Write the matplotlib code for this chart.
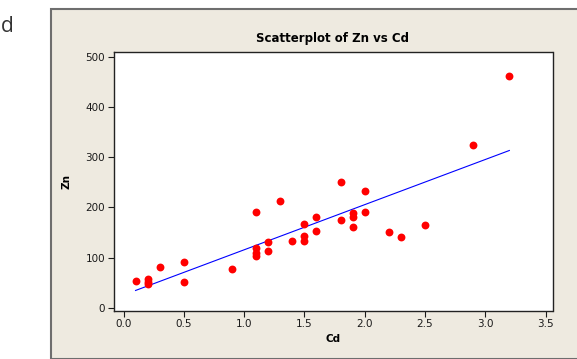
import numpy as np
import matplotlib.pyplot as plt
from matplotlib.patches import Rectangle

# Cd and Zn concentrations
cd = [0.1, 0.2, 0.2, 0.2, 0.3, 0.5, 0.5, 0.9, 1.1, 1.1, 1.1, 1.1,
      1.2, 1.2, 1.3, 1.4, 1.5, 1.5, 1.5, 1.6, 1.6, 1.8, 1.8,
      1.9, 1.9, 1.9, 2.0, 2.0, 2.2, 2.3, 2.5, 2.9, 3.2]
zn = [54, 57, 52, 47, 82, 92, 52, 77, 191, 120, 110, 103,
      132, 114, 212, 134, 166, 143, 134, 181, 153, 250, 174,
      189, 181, 161, 232, 191, 152, 141, 165, 324, 462]

x_ticks = [0.0, 0.5, 1.0, 1.5, 2.0, 2.5, 3.0, 3.5]
y_ticks = [0, 100, 200, 300, 400, 500]

fig = plt.figure(figsize=(5.77, 3.59), dpi=100)
fig.patch.set_facecolor("white")

# beige panel behind the plot
W, H = 577, 359
panel = Rectangle((50.5 / W, 0), 1.0, 1 - 8.5 / H, transform=fig.transFigure,
                  facecolor="#eeeae0", edgecolor="#6e6e6e", linewidth=1.5)
panel.set_zorder(-1)
fig.add_artist(panel)
fig.text(1 / W, 1 - 27 / H, "d", fontsize=15, color="#333333", va="center",
         family="Open Sans")

ax = fig.add_axes([113.5 / W, 1 - 311 / H, (552.5 - 113.5) / W, (311 - 52) / H])
ax.set_zorder(2)
ax.set_facecolor("white")

ax.scatter(cd, zn, s=32, color="#ff0000", zorder=3, linewidths=0)

# least squares line
b, a = np.polyfit(cd, zn, 1)
xs = np.array([min(cd), max(cd)])
ax.plot(xs, a + b * xs, color="#0000ff", linewidth=0.8, zorder=2)

ax.set_xlim(-0.083, 3.558)
ax.set_ylim(-6, 509)
ax.set_xticks(x_ticks)
ax.set_xticklabels([f"{t:.1f}" for t in x_ticks])
ax.set_yticks(y_ticks)
ax.tick_params(direction="out", length=4, width=0.8, labelsize=7.5,
               colors="#1a1a1a", pad=2)
for s in ax.spines.values():
    s.set_linewidth(1.0)
    s.set_color("#222222")

ax.set_title("Scatterplot of Zn vs Cd", fontsize=8.5, fontweight="bold", pad=7)
ax.set_xlabel("Cd", fontsize=7.5, fontweight="bold", labelpad=3)
ax.set_ylabel("Zn", fontsize=7.5, fontweight="bold", labelpad=10)

fig.savefig("out.png", dpi=100)
